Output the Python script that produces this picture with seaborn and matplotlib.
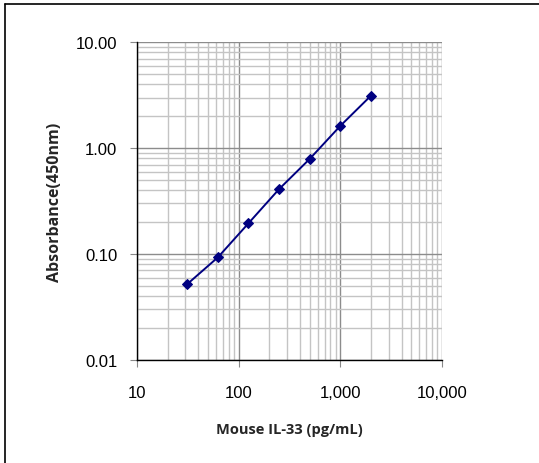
import numpy as np
import pandas as pd
import seaborn as sns
import matplotlib.pyplot as plt
from matplotlib.lines import Line2D
from matplotlib.ticker import FixedLocator, LogLocator, NullFormatter, FuncFormatter

sns.set_theme(style="white")
plt.rcParams['font.family'] = ['Liberation Sans', 'DejaVu Sans']

# standard curve
conc = [31.25, 62.5, 125, 250, 500, 1000, 2000]
absorb = [0.052, 0.093, 0.195, 0.41, 0.79, 1.62, 3.12]
x_ticks = [10, 100, 1000, 10000]
y_ticks = [0.01, 0.1, 1, 10]

df = pd.DataFrame({'conc': conc, 'abs': absorb})

fig = plt.figure(figsize=(5.39, 4.64), dpi=100)
ax = fig.add_axes([0.254, 0.222, 0.566, 0.685])

ax.set_xscale('log')
ax.set_yscale('log')
ax.set_xlim(10, 10000)
ax.set_ylim(0.01, 10)

sns.lineplot(data=df, x='conc', y='abs', ax=ax, color='#000080', lw=1.4,
             marker='D', markersize=5.5, markeredgecolor='#000080')

ax.xaxis.set_major_locator(FixedLocator(x_ticks))
ax.yaxis.set_major_locator(FixedLocator(y_ticks))
ax.xaxis.set_minor_locator(LogLocator(base=10, subs=np.arange(2, 10)))
ax.yaxis.set_minor_locator(LogLocator(base=10, subs=np.arange(2, 10)))
ax.xaxis.set_minor_formatter(NullFormatter())
ax.yaxis.set_minor_formatter(NullFormatter())
ax.xaxis.set_major_formatter(FuncFormatter(lambda v, p: f'{v:,.0f}'))
ax.yaxis.set_major_formatter(FuncFormatter(lambda v, p: f'{v:.2f}'))

ax.grid(which='minor', color='#c4c4c4', lw=1.0)
ax.grid(which='major', color='#8c8c8c', lw=1.0)
ax.set_axisbelow(True)

for s in ['top', 'right']:
    ax.spines[s].set_visible(False)
for s in ['left', 'bottom']:
    ax.spines[s].set_color('black')
    ax.spines[s].set_linewidth(1.0)

ax.tick_params(which='major', direction='out', length=5, width=0.8, color='#888888',
               labelsize=12, colors='#888888', labelcolor='black', left=True, bottom=True)
ax.tick_params(which='minor', length=0)
ax.tick_params(axis='x', pad=13)
ax.tick_params(axis='y', pad=9)

ax.set_xlabel('Mouse IL-33 (pg/mL)', fontsize=10.5, fontweight='bold',
              family=['Open Sans', 'DejaVu Sans'], labelpad=16)
ax.set_ylabel('Absorbance(450nm)', fontsize=11.5, fontweight='bold',
              family=['Open Sans', 'DejaVu Sans'], labelpad=9)

# outer frame of the chart (left and top only)
fig.add_artist(Line2D([5 / 539, 5 / 539], [0, 1 - 5 / 464], transform=fig.transFigure,
                      color='black', lw=1.2))
fig.add_artist(Line2D([5 / 539, 1], [1 - 5 / 464, 1 - 5 / 464], transform=fig.transFigure,
                      color='black', lw=1.2))

fig.savefig('out.png', dpi=100)
